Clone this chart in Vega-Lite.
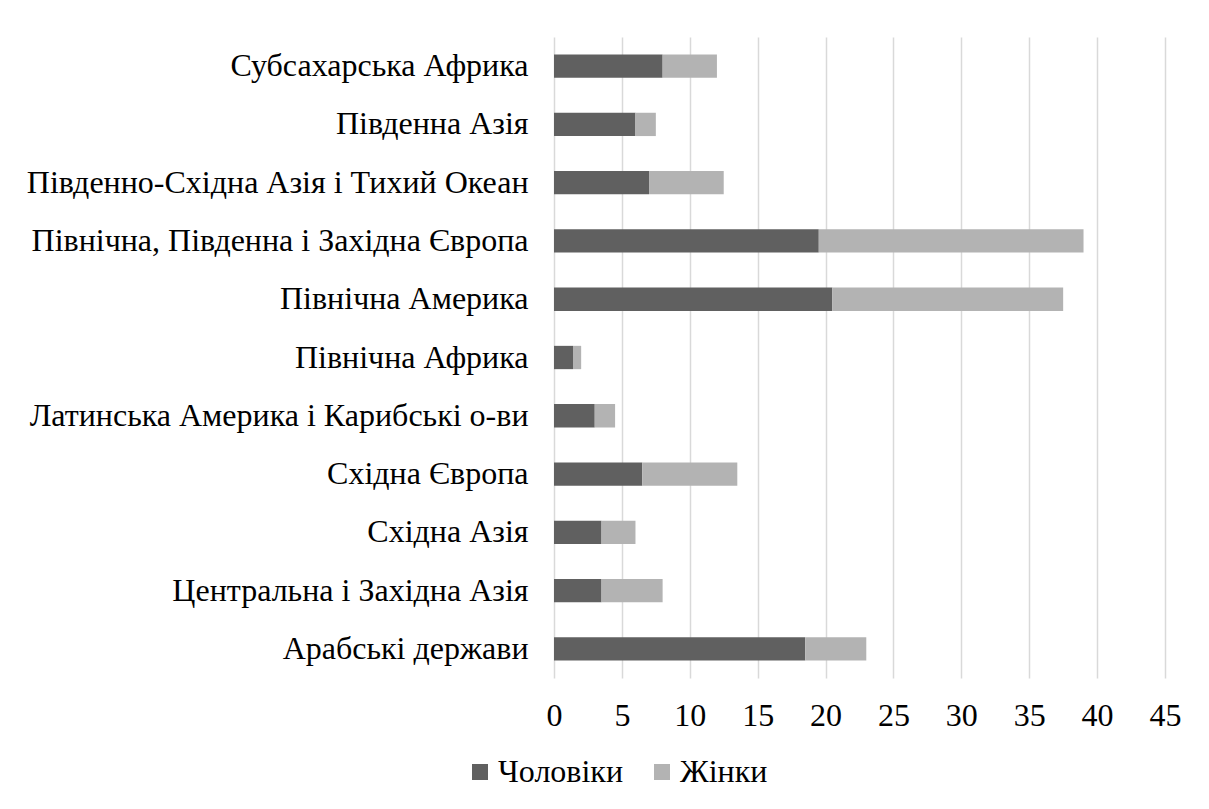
{
  "$schema": "https://vega.github.io/schema/vega-lite/v6.json",
  "width": 611,
  "height": 641,
  "autosize": {"type": "none"},
  "padding": {"left": 554, "top": 37, "right": 44, "bottom": 131},
  "background": "white",
  "data": {"values": [
    {"region": "Субсахарська Африка", "sex": "Чоловіки", "value": 8, "ord": 1},
    {"region": "Субсахарська Африка", "sex": "Жінки", "value": 4, "ord": 2},
    {"region": "Південна Азія", "sex": "Чоловіки", "value": 6, "ord": 1},
    {"region": "Південна Азія", "sex": "Жінки", "value": 1.5, "ord": 2},
    {"region": "Південно-Східна Азія і Тихий Океан", "sex": "Чоловіки", "value": 7, "ord": 1},
    {"region": "Південно-Східна Азія і Тихий Океан", "sex": "Жінки", "value": 5.5, "ord": 2},
    {"region": "Північна, Південна і Західна Європа", "sex": "Чоловіки", "value": 19.5, "ord": 1},
    {"region": "Північна, Південна і Західна Європа", "sex": "Жінки", "value": 19.5, "ord": 2},
    {"region": "Північна Америка", "sex": "Чоловіки", "value": 20.5, "ord": 1},
    {"region": "Північна Америка", "sex": "Жінки", "value": 17, "ord": 2},
    {"region": "Північна Африка", "sex": "Чоловіки", "value": 1.4, "ord": 1},
    {"region": "Північна Африка", "sex": "Жінки", "value": 0.6, "ord": 2},
    {"region": "Латинська Америка і Карибські о-ви", "sex": "Чоловіки", "value": 3, "ord": 1},
    {"region": "Латинська Америка і Карибські о-ви", "sex": "Жінки", "value": 1.5, "ord": 2},
    {"region": "Східна Європа", "sex": "Чоловіки", "value": 6.5, "ord": 1},
    {"region": "Східна Європа", "sex": "Жінки", "value": 7, "ord": 2},
    {"region": "Східна Азія", "sex": "Чоловіки", "value": 3.5, "ord": 1},
    {"region": "Східна Азія", "sex": "Жінки", "value": 2.5, "ord": 2},
    {"region": "Центральна і Західна Азія", "sex": "Чоловіки", "value": 3.5, "ord": 1},
    {"region": "Центральна і Західна Азія", "sex": "Жінки", "value": 4.5, "ord": 2},
    {"region": "Арабські держави", "sex": "Чоловіки", "value": 18.5, "ord": 1},
    {"region": "Арабські держави", "sex": "Жінки", "value": 4.5, "ord": 2}
  ]},
  "mark": {"type": "bar"},
  "encoding": {
    "y": {
      "field": "region", "type": "nominal", "sort": null,
      "scale": {"paddingInner": 0.6, "paddingOuter": 0.3},
      "axis": {"title": null, "domain": false, "ticks": false, "labelPadding": 26, "labelFontSize": 32, "labelLimit": 600}
    },
    "x": {
      "field": "value", "type": "quantitative", "stack": "zero",
      "scale": {"domain": [0, 45], "nice": false},
      "axis": {"title": null, "domain": false, "ticks": false, "values": [0,5,10,15,20,25,30,35,40,45], "labelPadding": 22, "labelFontSize": 32, "labelFlush": false, "grid": true}
    },
    "color": {
      "field": "sex", "type": "nominal",
      "scale": {"domain": ["Чоловіки", "Жінки"], "range": ["#606060", "#b3b3b3"]},
      "legend": {"title": null, "orient": "none", "direction": "horizontal", "legendX": -90, "legendY": 719, "labelFontSize": 32, "symbolType": "square", "symbolSize": 256, "symbolStrokeWidth": 0, "columnPadding": 22, "labelOffset": 2}
    },
    "order": {"field": "ord", "type": "quantitative"}
  },
  "config": {
    "font": "Liberation Serif",
    "view": {"stroke": null},
    "axis": {"labelColor": "#000000", "labelFont": "Liberation Serif", "gridColor": "#d9d9d9", "gridWidth": 1.5},
    "legend": {"labelColor": "#000000", "labelFont": "Liberation Serif"}
  }
}
